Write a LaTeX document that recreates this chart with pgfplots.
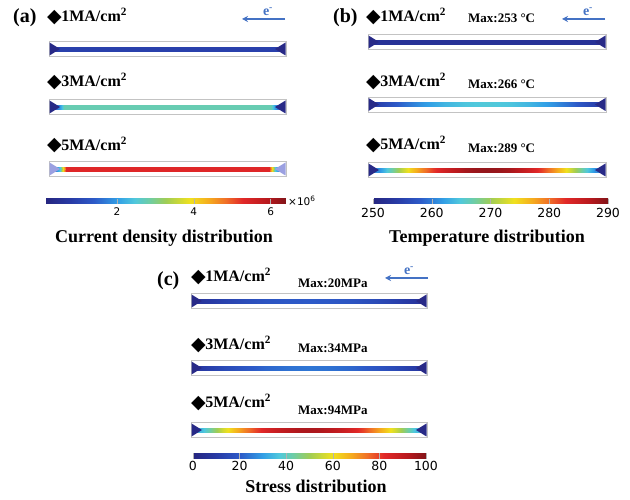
\documentclass[border=0pt]{standalone}
\usepackage{fontspec}
\setmainfont{Liberation Serif}
\newfontfamily\dejavu{DejaVu Sans}
\usepackage{pgfplots}
\pgfplotsset{compat=1.18}
\usetikzlibrary{arrows.meta}
\pgfkeys{/pgf/number format/assume math mode=true}

\definecolor{navy}{RGB}{40,42,135}
\definecolor{lav}{RGB}{155,160,225}
\definecolor{ebl}{RGB}{68,114,196}
\definecolor{frame}{RGB}{195,195,195}

\pgfplotsset{
 colormap={comsol}{rgb255(0pt)=(38,38,128); rgb255(10pt)=(40,58,165); rgb255(20pt)=(45,90,200); rgb255(30pt)=(50,160,230); rgb255(37pt)=(80,200,220); rgb255(43pt)=(110,205,165); rgb255(50pt)=(160,205,85); rgb255(60pt)=(240,225,30); rgb255(68pt)=(245,170,30); rgb255(75pt)=(240,110,40); rgb255(82pt)=(225,40,40); rgb255(92pt)=(185,25,30); rgb255(100pt)=(130,20,25)},
 panel/.style={scale only axis, width=630pt, height=500pt, xmin=0, xmax=630, ymin=0, ymax=500,
   hide axis, clip=false, at={(0,0)}, anchor=south west, no markers, colormap name=comsol,
   colorbar horizontal},
 cb/.style={scale only axis, anchor=north west, axis line style={draw=none}, axis on top,
   tick align=inside, major tick length=5pt, xtick style={draw=black!30, line width=0.3pt},
   ytick=\empty},
 line/.style={surf, shader=interp, mesh/rows=2, mesh/ordering=y varies, point meta=explicit, forget plot},
}
\newcommand{\tri}[6]{\addplot[fill=#1, draw=none, forget plot] coordinates {(#2,#4) (#2,#6) (#3,#5) (#2,#4)};}
\newcommand{\frm}[4]{\addplot[draw=frame, line width=0.8pt, fill=white, forget plot] coordinates {(#1,#3) (#2,#3) (#2,#4) (#1,#4) (#1,#3)};}
\newcommand{\cur}[1]{\raisebox{-0.5pt}{\dejavu\fontsize{19}{19}\selectfont ◆}\kern-0.5pt\textbf{#1MA/cm\textsuperscript{2}}}
\newcommand{\lab}{\fontsize{16}{16}\selectfont}
\newcommand{\mx}{\fontsize{13}{13}\selectfont\bfseries}
\newcommand{\ttl}{\fontsize{18}{18}\selectfont\bfseries}
\newcommand{\pl}{\fontsize{20}{20}\selectfont\bfseries}
\newcommand{\el}{\fontsize{14}{14}\selectfont\bfseries\color{ebl}e\textsuperscript{-}}

\begin{document}
\begin{tikzpicture}
\useasboundingbox (0,0) rectangle (630pt,500pt);
\fill[white] (0,0) rectangle (630pt,500pt);

% ================= (a) current density =================
\begin{axis}[panel, point meta min=0.15, point meta max=6.4,
  colorbar style={cb, at={(0.0730,0.602)}, width=240pt, height=5pt, xtick={2,4,6},
    xticklabel style={font=\dejavu\fontsize{10.5}{11}\selectfont, inner sep=0pt, yshift=-4pt}}]
 % strip 1
 \frm{49}{286}{443.5}{458.5}
 \addplot[line] coordinates {(52,448.7) [0.9] (52,453.3) [0.9] (283,448.7) [0.9] (283,453.3) [0.9]};
 \tri{navy}{49.5}{60}{444.5}{451}{457.5}
 \tri{navy}{285.5}{275}{444.5}{451}{457.5}
 % strip 2
 \frm{49}{286}{385.5}{400.5}
 \addplot[line] coordinates {(52,390.7) [1.0] (52,395.3) [1.0] (60,390.7) [2.0] (60,395.3) [2.0]
   (64,390.7) [2.75] (64,395.3) [2.75] (271,390.7) [2.75] (271,395.3) [2.75]
   (275,390.7) [2.0] (275,395.3) [2.0] (283,390.7) [1.0] (283,395.3) [1.0]};
 \tri{navy}{49.5}{60}{386.5}{393}{399.5}
 \tri{navy}{285.5}{275}{386.5}{393}{399.5}
 % strip 3
 \frm{49}{286}{323.5}{338.5}
 \addplot[line] coordinates {(52,328.7) [1.0] (52,333.3) [1.0] (60,328.7) [2.5] (60,333.3) [2.5]
   (63,328.7) [4.0] (63,333.3) [4.0] (66,328.7) [5.3] (66,333.3) [5.3]
   (269,328.7) [5.3] (269,333.3) [5.3] (272,328.7) [4.0] (272,333.3) [4.0]
   (275,328.7) [2.5] (275,333.3) [2.5] (283,328.7) [1.0] (283,333.3) [1.0]};
 \tri{lav}{49.5}{60}{324.5}{331}{337.5}
 \tri{lav}{285.5}{275}{324.5}{331}{337.5}
 % texts
 \node[anchor=base west, inner sep=0pt, font=\pl] at (axis cs:13,477) {(a)};
 \node[anchor=base west, inner sep=0pt, font=\lab] at (axis cs:47,478) {\cur{1}};
 \node[anchor=base west, inner sep=0pt, font=\lab] at (axis cs:47,413) {\cur{3}};
 \node[anchor=base west, inner sep=0pt, font=\lab] at (axis cs:47,349.5) {\cur{5}};
 \draw[ebl, line width=1.5pt, -{Stealth[length=6pt,width=6pt]}] (axis cs:285,481) -- (axis cs:242,481);
 \node[anchor=base, inner sep=0pt] at (axis cs:268,484) {\el};
 \node[anchor=west, inner sep=0pt, font=\dejavu\fontsize{10.5}{11}\selectfont] at (axis cs:288,299.5) {×10\textsuperscript{6}};
 \node[anchor=base, inner sep=0pt, font=\ttl] at (axis cs:164,257) {Current density distribution};
\end{axis}

% ================= (b) temperature =================
\begin{axis}[panel, point meta min=250, point meta max=290,
  colorbar style={cb, at={(0.5921,0.602)}, width=235pt, height=5pt, xtick={250,260,270,280,290},
    xticklabel style={font=\dejavu\fontsize{12.5}{13}\selectfont, inner sep=0pt, yshift=-4pt}}]
 % strip 1
 \frm{368}{606}{450.5}{465.5}
 \addplot[line] coordinates {(372,455.7) [252.5] (372,460.3) [252.5] (602,455.7) [252.5] (602,460.3) [252.5]};
 \tri{navy}{368.5}{379}{451.5}{458}{464.5}
 \tri{navy}{605.5}{595}{451.5}{458}{464.5}
 % strip 2
 \frm{368}{606}{388}{403}
 \addplot[line] coordinates {
  (372,393.2) [255] (372,397.8) [255]
  (379,393.2) [255] (379,397.8) [255]
  (400.6,393.2) [258.6] (400.6,397.8) [258.6]
  (422.2,393.2) [261.4] (422.2,397.8) [261.4]
  (443.8,393.2) [263.4] (443.8,397.8) [263.4]
  (465.4,393.2) [264.6] (465.4,397.8) [264.6]
  (487,393.2) [265] (487,397.8) [265]
  (508.6,393.2) [264.6] (508.6,397.8) [264.6]
  (530.2,393.2) [263.4] (530.2,397.8) [263.4]
  (551.8,393.2) [261.4] (551.8,397.8) [261.4]
  (573.4,393.2) [258.6] (573.4,397.8) [258.6]
  (595,393.2) [255] (595,397.8) [255]
  (602,393.2) [255] (602,397.8) [255]};
 \tri{navy}{368.5}{379}{389}{395.5}{402}
 \tri{navy}{605.5}{595}{389}{395.5}{402}
 % strip 3
 \frm{368}{606}{322.5}{337.5}
 \addplot[line] coordinates {
  (372,327.7) [261] (372,332.3) [261]
  (379,327.7) [261] (379,332.3) [261]
  (389.8,327.7) [266.3] (389.8,332.3) [266.3]
  (400.6,327.7) [271.1] (400.6,332.3) [271.1]
  (411.4,327.7) [275.3] (411.4,332.3) [275.3]
  (422.2,327.7) [278.9] (422.2,332.3) [278.9]
  (433,327.7) [282] (433,332.3) [282]
  (443.8,327.7) [284.5] (443.8,332.3) [284.5]
  (454.6,327.7) [286.5] (454.6,332.3) [286.5]
  (465.4,327.7) [287.9] (465.4,332.3) [287.9]
  (476.2,327.7) [288.7] (476.2,332.3) [288.7]
  (487,327.7) [289] (487,332.3) [289]
  (497.8,327.7) [288.7] (497.8,332.3) [288.7]
  (508.6,327.7) [287.9] (508.6,332.3) [287.9]
  (519.4,327.7) [286.5] (519.4,332.3) [286.5]
  (530.2,327.7) [284.5] (530.2,332.3) [284.5]
  (541,327.7) [282] (541,332.3) [282]
  (551.8,327.7) [278.9] (551.8,332.3) [278.9]
  (562.6,327.7) [275.3] (562.6,332.3) [275.3]
  (573.4,327.7) [271.1] (573.4,332.3) [271.1]
  (584.2,327.7) [266.3] (584.2,332.3) [266.3]
  (595,327.7) [261] (595,332.3) [261]
  (602,327.7) [261] (602,332.3) [261]};
 \tri{navy}{368.5}{379}{323.5}{330}{336.5}
 \tri{navy}{605.5}{595}{323.5}{330}{336.5}
 % texts
 \node[anchor=base west, inner sep=0pt, font=\pl] at (axis cs:333,477) {(b)};
 \node[anchor=base west, inner sep=0pt, font=\lab] at (axis cs:366,478) {\cur{1}};
 \node[anchor=base west, inner sep=0pt, font=\lab] at (axis cs:366,413) {\cur{3}};
 \node[anchor=base west, inner sep=0pt, font=\lab] at (axis cs:366,350) {\cur{5}};
 \node[anchor=base west, inner sep=0pt, font=\mx] at (axis cs:468,477) {Max:253 °C};
 \node[anchor=base west, inner sep=0pt, font=\mx] at (axis cs:468,411) {Max:266 °C};
 \node[anchor=base west, inner sep=0pt, font=\mx] at (axis cs:468,347) {Max:289 °C};
 \draw[ebl, line width=1.5pt, -{Stealth[length=6pt,width=6pt]}] (axis cs:605,481) -- (axis cs:562,481);
 \node[anchor=base, inner sep=0pt] at (axis cs:588,484) {\el};
 \node[anchor=base, inner sep=0pt, font=\ttl] at (axis cs:487,257) {Temperature distribution};
\end{axis}

% ================= (c) stress =================
\begin{axis}[panel, point meta min=0, point meta max=100,
  colorbar style={cb, at={(0.3063,0.092)}, width=233pt, height=4.5pt, xtick={0,20,40,60,80,100},
    xticklabel style={font=\dejavu\fontsize{12.5}{13}\selectfont, inner sep=0pt, yshift=-3pt}}]
 % strip 1
 \frm{191}{427}{191.5}{206.5}
 \addplot[line] coordinates {
  (195,196.7) [8] (195,201.3) [8]
  (202,196.7) [8] (202,201.3) [8]
  (223.4,196.7) [12.3] (223.4,201.3) [12.3]
  (244.8,196.7) [15.7] (244.8,201.3) [15.7]
  (266.2,196.7) [18.1] (266.2,201.3) [18.1]
  (287.6,196.7) [19.5] (287.6,201.3) [19.5]
  (309,196.7) [20] (309,201.3) [20]
  (330.4,196.7) [19.5] (330.4,201.3) [19.5]
  (351.8,196.7) [18.1] (351.8,201.3) [18.1]
  (373.2,196.7) [15.7] (373.2,201.3) [15.7]
  (394.6,196.7) [12.3] (394.6,201.3) [12.3]
  (416,196.7) [8] (416,201.3) [8]
  (423,196.7) [8] (423,201.3) [8]};
 \tri{navy}{191.5}{202}{192.5}{199}{205.5}
 \tri{navy}{426.5}{416}{192.5}{199}{205.5}
 % strip 2
 \frm{191}{427}{124.5}{139.5}
 \addplot[line] coordinates {
  (195,129.7) [10] (195,134.3) [10]
  (202,129.7) [10] (202,134.3) [10]
  (223.4,129.7) [15] (223.4,134.3) [15]
  (244.8,129.7) [19] (244.8,134.3) [19]
  (266.2,129.7) [21.8] (266.2,134.3) [21.8]
  (287.6,129.7) [23.4] (287.6,134.3) [23.4]
  (309,129.7) [24] (309,134.3) [24]
  (330.4,129.7) [23.4] (330.4,134.3) [23.4]
  (351.8,129.7) [21.8] (351.8,134.3) [21.8]
  (373.2,129.7) [19] (373.2,134.3) [19]
  (394.6,129.7) [15] (394.6,134.3) [15]
  (416,129.7) [10] (416,134.3) [10]
  (423,129.7) [10] (423,134.3) [10]};
 \tri{navy}{191.5}{202}{125.5}{132}{138.5}
 \tri{navy}{426.5}{416}{125.5}{132}{138.5}
 % strip 3
 \frm{191}{427}{62.5}{77.5}
 \addplot[line] coordinates {
  (195,67.7) [35] (195,72.3) [35]
  (202,67.7) [35] (202,72.3) [35]
  (212.7,67.7) [46.2] (212.7,72.3) [46.2]
  (223.4,67.7) [56.2] (223.4,72.3) [56.2]
  (234.1,67.7) [65.1] (234.1,72.3) [65.1]
  (244.8,67.7) [72.8] (244.8,72.3) [72.8]
  (255.5,67.7) [79.3] (255.5,72.3) [79.3]
  (266.2,67.7) [84.6] (266.2,72.3) [84.6]
  (276.9,67.7) [88.7] (276.9,72.3) [88.7]
  (287.6,67.7) [91.6] (287.6,72.3) [91.6]
  (298.3,67.7) [93.4] (298.3,72.3) [93.4]
  (309,67.7) [94] (309,72.3) [94]
  (319.7,67.7) [93.4] (319.7,72.3) [93.4]
  (330.4,67.7) [91.6] (330.4,72.3) [91.6]
  (341.1,67.7) [88.7] (341.1,72.3) [88.7]
  (351.8,67.7) [84.6] (351.8,72.3) [84.6]
  (362.5,67.7) [79.3] (362.5,72.3) [79.3]
  (373.2,67.7) [72.8] (373.2,72.3) [72.8]
  (383.9,67.7) [65.1] (383.9,72.3) [65.1]
  (394.6,67.7) [56.2] (394.6,72.3) [56.2]
  (405.3,67.7) [46.2] (405.3,72.3) [46.2]
  (416,67.7) [35] (416,72.3) [35]
  (423,67.7) [35] (423,72.3) [35]};
 \tri{navy}{191.5}{202}{63.5}{70}{76.5}
 \tri{navy}{426.5}{416}{63.5}{70}{76.5}
 % texts
 \node[anchor=base west, inner sep=0pt, font=\pl] at (axis cs:157,214) {(c)};
 \node[anchor=base west, inner sep=0pt, font=\lab] at (axis cs:191,218) {\cur{1}};
 \node[anchor=base west, inner sep=0pt, font=\lab] at (axis cs:191,150) {\cur{3}};
 \node[anchor=base west, inner sep=0pt, font=\lab] at (axis cs:191,92) {\cur{5}};
 \node[anchor=base west, inner sep=0pt, font=\mx] at (axis cs:298,212) {Max:20MPa};
 \node[anchor=base west, inner sep=0pt, font=\mx] at (axis cs:298,147) {Max:34MPa};
 \node[anchor=base west, inner sep=0pt, font=\mx] at (axis cs:298,85) {Max:94MPa};
 \draw[ebl, line width=1.5pt, -{Stealth[length=6pt,width=6pt]}] (axis cs:428,222) -- (axis cs:385,222);
 \node[anchor=base, inner sep=0pt] at (axis cs:409,225) {\el};
 \node[anchor=base, inner sep=0pt, font=\ttl] at (axis cs:316,7) {Stress distribution};
\end{axis}
\end{tikzpicture}
\end{document}
